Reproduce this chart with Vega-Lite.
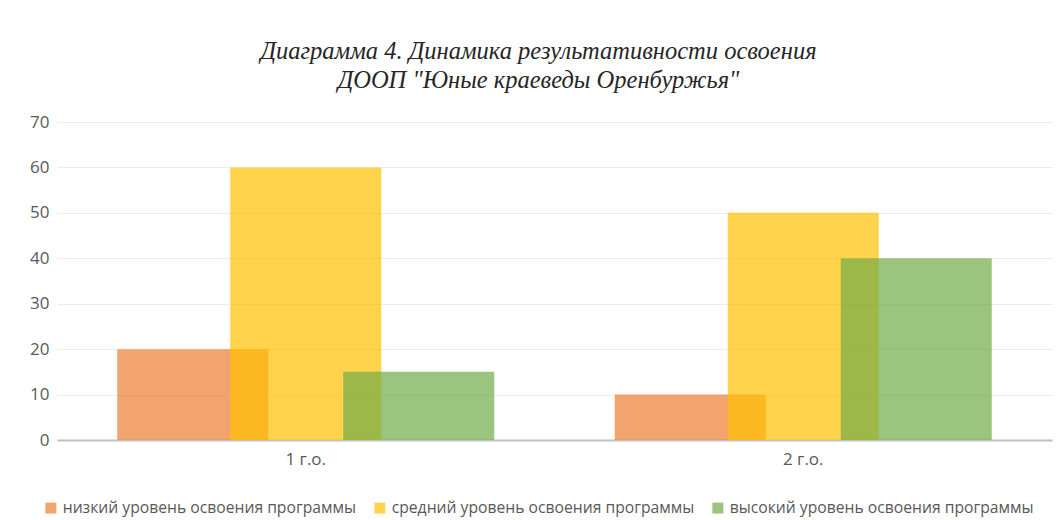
{
  "$schema": "https://vega.github.io/schema/vega-lite/v6.json",
  "autosize": "none",
  "width": 995,
  "height": 318,
  "padding": {"left": 57, "top": 122, "right": 9, "bottom": 80},
  "background": "white",
  "title": {
    "text": ["Диаграмма 4. Динамика результативности освоения", "ДООП \"Юные краеведы Оренбуржья\""],
    "font": "Liberation Serif",
    "fontStyle": "italic",
    "fontWeight": "normal",
    "fontSize": 24.5,
    "lineHeight": 29,
    "color": "#262626",
    "anchor": "middle",
    "dx": -16,
    "offset": 20
  },
  "data": {
    "values": [
      {"group": "1 г.о.", "series": "низкий уровень освоения программы", "value": 20},
      {"group": "1 г.о.", "series": "средний уровень освоения программы", "value": 60},
      {"group": "1 г.о.", "series": "высокий уровень освоения программы", "value": 15},
      {"group": "2 г.о.", "series": "низкий уровень освоения программы", "value": 10},
      {"group": "2 г.о.", "series": "средний уровень освоения программы", "value": 50},
      {"group": "2 г.о.", "series": "высокий уровень освоения программы", "value": 40}
    ]
  },
  "encoding": {
    "x": {
      "field": "group",
      "type": "nominal",
      "scale": {"paddingInner": 0, "paddingOuter": 0},
      "axis": {
        "title": null,
        "labelAngle": 0,
        "ticks": false,
        "domainColor": "#BFBFBF",
        "domainWidth": 2,
        "labelPadding": 11,
        "labelFont": "Open Sans",
        "labelFontSize": 17,
        "labelColor": "#595959",
        "grid": false
      }
    },
    "y": {
      "field": "value",
      "type": "quantitative",
      "scale": {"domain": [0, 70]},
      "axis": {
        "title": null,
        "values": [0, 10, 20, 30, 40, 50, 60, 70],
        "domain": false,
        "ticks": false,
        "labelPadding": 8,
        "labelFont": "Open Sans",
        "labelFontSize": 17,
        "labelColor": "#595959",
        "gridColor": "#ECECEC",
        "gridWidth": 1
      }
    },
    "color": {
      "field": "series",
      "type": "nominal",
      "scale": {
        "domain": ["низкий уровень освоения программы", "средний уровень освоения программы", "высокий уровень освоения программы"],
        "range": ["#ED7D31", "#FFC000", "#70AD47"]
      },
      "legend": {
        "title": null,
        "orient": "none",
        "legendX": -14,
        "legendY": 378,
        "direction": "horizontal",
        "symbolType": "square",
        "symbolSize": 121,
        "symbolOpacity": 0.7,
        "symbolStrokeWidth": 0,
        "labelFont": "Open Sans",
        "labelFontSize": 15.7,
        "labelColor": "#595959",
        "labelLimit": 400,
        "labelOffset": 4,
        "columnPadding": 15
      }
    }
  },
  "layer": [
    {
      "transform": [{"filter": "datum.series === 'низкий уровень освоения программы'"}],
      "mark": {"type": "bar", "width": 151, "xOffset": -113, "opacity": 0.7}
    },
    {
      "transform": [{"filter": "datum.series === 'средний уровень освоения программы'"}],
      "mark": {"type": "bar", "width": 151, "xOffset": 0, "opacity": 0.7}
    },
    {
      "transform": [{"filter": "datum.series === 'высокий уровень освоения программы'"}],
      "mark": {"type": "bar", "width": 151, "xOffset": 113, "opacity": 0.7}
    }
  ],
  "config": {"view": {"stroke": null}}
}
